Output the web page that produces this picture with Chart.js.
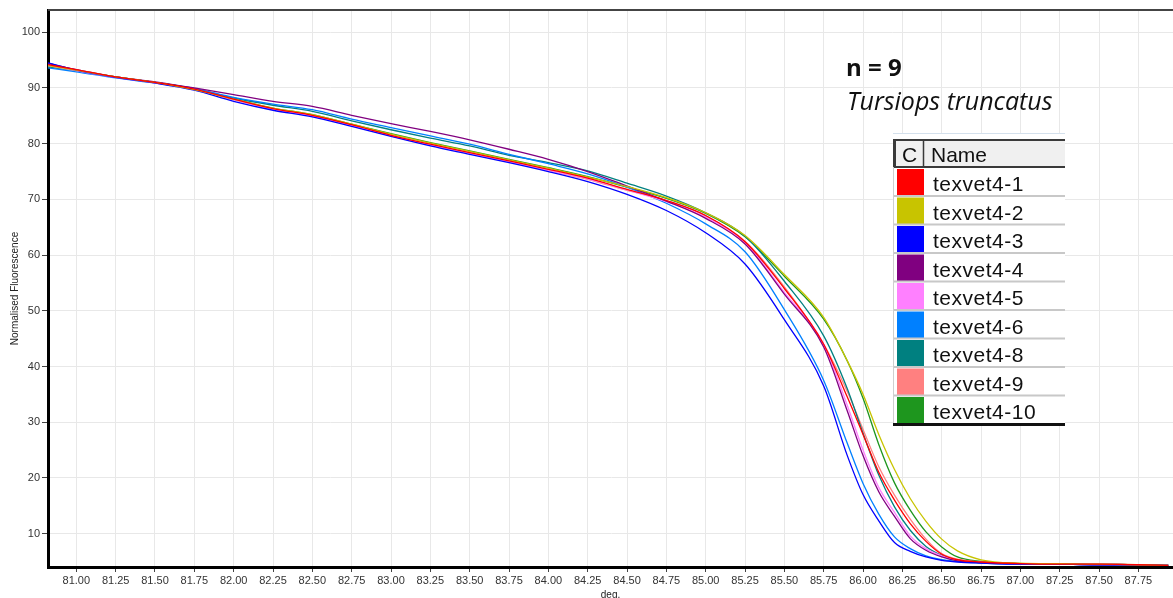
<!DOCTYPE html>
<html>
<head>
<meta charset="utf-8">
<script src="https://cdn.jsdelivr.net/npm/chart.js@4.4.1/dist/chart.umd.min.js"></script>
<style>
  html, body { margin: 0; padding: 0; background: #fff; }
  #wrap { width: 1173px; height: 598px; }
</style>
</head>
<body>
<div id="wrap"><canvas id="melt" width="1173" height="598"></canvas></div>
<script>
// temperature steps (deg.) shared by every melt curve
const temps = [80.82, 81.0, 81.25, 81.5, 81.75, 82.0, 82.25, 82.5, 82.75, 83.0,
  83.25, 83.5, 83.75, 84.0, 84.25, 84.5, 84.75, 85.0, 85.25, 85.5,
  85.75, 85.9, 86.0, 86.1, 86.2, 86.3, 86.4, 86.5, 86.6, 86.75,
  87.0, 87.25, 87.5, 87.75, 87.94];

const sampleNames = ['texvet4-1', 'texvet4-2', 'texvet4-3', 'texvet4-4', 'texvet4-5',
  'texvet4-6', 'texvet4-8', 'texvet4-9', 'texvet4-10'];
const sampleColors = ['#ff0000', '#c8c400', '#0000ff', '#800080', '#ff80ff',
  '#0080ff', '#008080', '#ff8080', '#1e961e'];

// normalised fluorescence per sample
const tv1 = [94.2, 93.3, 92.0, 91.0, 89.8, 88.0, 86.3, 85.1, 83.4, 81.5, 79.9, 78.4, 76.9, 75.4, 73.8, 71.8, 69.8, 67.1, 62.4, 54.0, 44.0, 34.5, 27.8, 21.0, 16.0, 11.8, 8.6, 6.3, 5.3, 4.9, 4.6, 4.5, 4.5, 4.4, 4.3];
const tv2 = [94.0, 93.2, 92.0, 91.0, 89.7, 88.0, 86.4, 85.2, 83.5, 81.7, 80.1, 78.6, 77.1, 75.6, 74.0, 72.3, 70.3, 67.6, 63.5, 56.5, 48.8, 41.0, 35.0, 27.8, 21.5, 16.3, 12.2, 9.0, 6.9, 5.3, 4.7, 4.6, 4.5, 4.4, 4.3];
const tv3 = [94.5, 93.2, 91.9, 90.9, 89.6, 87.6, 86.0, 84.8, 83.1, 81.3, 79.6, 78.1, 76.6, 75.0, 73.2, 70.9, 68.0, 64.0, 58.4, 48.4, 36.5, 24.0, 17.0, 12.3, 8.4, 6.8, 5.8, 5.2, 4.9, 4.7, 4.5, 4.5, 4.4, 4.4, 4.3];
const tv4 = [94.4, 93.3, 92.0, 91.1, 90.0, 88.8, 87.6, 86.7, 85.1, 83.6, 82.2, 80.7, 79.0, 77.2, 75.0, 72.4, 69.7, 66.6, 62.0, 53.0, 43.5, 32.0, 24.0, 17.5, 13.1, 9.1, 7.0, 5.8, 5.1, 4.8, 4.6, 4.5, 4.4, 4.4, 4.3];
const tv5 = [94.0, 93.1, 91.9, 90.9, 89.7, 87.9, 86.2, 85.0, 83.2, 81.5, 79.8, 78.3, 76.8, 75.2, 73.7, 71.7, 69.6, 66.8, 62.2, 53.3, 44.0, 33.0, 25.0, 18.3, 13.8, 9.6, 7.3, 6.0, 5.2, 4.8, 4.6, 4.5, 4.5, 4.4, 4.3];
const tv6 = [93.6, 92.9, 91.8, 90.9, 89.9, 88.3, 87.1, 86.1, 84.4, 82.9, 81.4, 79.9, 78.1, 76.4, 74.6, 72.2, 69.3, 65.6, 60.6, 50.2, 37.5, 26.2, 19.0, 13.5, 9.4, 7.3, 6.0, 5.3, 5.0, 4.7, 4.5, 4.5, 4.4, 4.4, 4.3];
const tv8 = [93.9, 93.1, 92.0, 91.0, 89.9, 88.2, 86.9, 85.8, 84.1, 82.5, 81.0, 79.6, 77.9, 76.6, 75.1, 72.9, 70.6, 67.6, 63.4, 55.3, 45.5, 36.0, 28.0, 20.5, 14.8, 10.6, 7.7, 6.1, 5.2, 4.8, 4.6, 4.5, 4.5, 4.4, 4.3];
const tv9 = [94.1, 93.2, 91.9, 90.9, 89.7, 87.9, 86.3, 85.0, 83.3, 81.4, 79.8, 78.3, 76.8, 75.2, 73.6, 71.6, 69.8, 67.0, 62.5, 54.3, 44.0, 35.5, 28.7, 22.0, 16.9, 12.6, 9.0, 6.4, 5.4, 4.9, 4.6, 4.6, 4.6, 4.4, 4.3];
const tv10 = [93.8, 93.1, 92.0, 91.0, 89.8, 88.0, 86.4, 85.2, 83.5, 81.8, 80.2, 78.7, 77.2, 75.7, 74.1, 72.2, 70.2, 67.5, 63.3, 56.2, 48.5, 41.0, 34.3, 26.0, 19.1, 14.2, 10.3, 7.6, 5.8, 5.0, 4.6, 4.5, 4.5, 4.4, 4.3];

const xTicks = [81.00, 81.25, 81.50, 81.75, 82.00, 82.25, 82.50, 82.75, 83.00, 83.25,
  83.50, 83.75, 84.00, 84.25, 84.50, 84.75, 85.00, 85.25, 85.50, 85.75,
  86.00, 86.25, 86.50, 86.75, 87.00, 87.25, 87.50, 87.75];
const yTicks = [10, 20, 30, 40, 50, 60, 70, 80, 90, 100];

const series = [tv1, tv2, tv3, tv4, tv5, tv6, tv8, tv9, tv10];

const tickFont = { family: 'Liberation Sans, Arial, sans-serif', size: 11 };

// top frame line, the sample count note and the C / Name table
const framePlugin = {
  id: 'frameAndKey',
  afterDraw(chart) {
    const ctx = chart.ctx;
    const area = chart.chartArea;
    ctx.save();
    ctx.strokeStyle = '#444';
    ctx.lineWidth = 2;
    ctx.beginPath();
    ctx.moveTo(area.left, area.top);
    ctx.lineTo(area.right, area.top);
    ctx.stroke();

    ctx.fillStyle = '#111';
    ctx.textBaseline = 'alphabetic';
    ctx.textAlign = 'left';
    ctx.font = 'bold 24px "Open Sans", sans-serif';
    ctx.fillText('n = 9', 846, 76);
    ctx.font = 'italic 25px "Open Sans", sans-serif';
    ctx.fillText('Tursiops truncatus', 847, 110);

    // table
    const left = 893, right = 1065, swR = 924;
    const headTop = 140, headBot = 167, rowH = 28.5;
    const rows = chart.data.datasets.length;
    const bottom = headBot + 1 + rows * rowH;
    ctx.fillStyle = '#fff';
    ctx.fillRect(left, 133, right - left, bottom - 133);
    ctx.strokeStyle = '#d4e0ec';
    ctx.lineWidth = 1;
    ctx.beginPath();
    ctx.moveTo(left, 133.5);
    ctx.lineTo(right, 133.5);
    ctx.stroke();

    ctx.fillStyle = '#f0f0f0';
    ctx.fillRect(left, headTop, right - left, headBot - headTop);
    ctx.strokeStyle = '#3a3a3a';
    ctx.lineWidth = 2;
    ctx.beginPath();
    ctx.moveTo(left, headTop); ctx.lineTo(right, headTop);
    ctx.moveTo(left, headBot); ctx.lineTo(right, headBot);
    ctx.stroke();
    ctx.lineWidth = 3;
    ctx.beginPath();
    ctx.moveTo(left + 1.5, headTop); ctx.lineTo(left + 1.5, headBot);
    ctx.stroke();
    ctx.lineWidth = 1.5;
    ctx.beginPath();
    ctx.moveTo(swR - 0.5, headTop); ctx.lineTo(swR - 0.5, headBot);
    ctx.stroke();

    ctx.fillStyle = '#111';
    ctx.font = '21px "Liberation Sans", Arial, sans-serif';
    ctx.fillText('C', 902, 162);
    ctx.fillText('Name', 931, 162);

    chart.data.datasets.forEach((ds, i) => {
      const top = headBot + 1 + i * rowH;
      ctx.fillStyle = ds.borderColor;
      ctx.fillRect(897, top + 1, swR - 897, rowH - 2);
      ctx.strokeStyle = '#c8c8c8';
      ctx.lineWidth = 2;
      ctx.beginPath();
      ctx.moveTo(left, top + rowH - 0.5);
      ctx.lineTo(right, top + rowH - 0.5);
      ctx.stroke();
      ctx.fillStyle = '#111';
      ctx.font = '21px "Liberation Sans", Arial, sans-serif';
      ctx.letterSpacing = '0.5px';
      ctx.fillText(ds.label, 933, top + 23);
      ctx.letterSpacing = '0px';
    });
    ctx.strokeStyle = '#cfcfcf';
    ctx.lineWidth = 1;
    ctx.beginPath();
    ctx.moveTo(left + 0.5, headBot); ctx.lineTo(left + 0.5, bottom);
    ctx.stroke();
    ctx.strokeStyle = '#111';
    ctx.lineWidth = 3;
    ctx.beginPath();
    ctx.moveTo(left, bottom); ctx.lineTo(right, bottom);
    ctx.stroke();
    ctx.restore();
  }
};

new Chart(document.getElementById('melt'), {
  type: 'line',
  data: {
    datasets: series.map((vals, i) => ({
      label: sampleNames[i],
      data: vals.map((v, j) => ({ x: temps[j], y: v })),
      borderColor: sampleColors[i],
      backgroundColor: sampleColors[i],
      borderWidth: 1.3,
      pointRadius: 0,
      cubicInterpolationMode: 'monotone',
      fill: false
    }))
  },
  options: {
    responsive: false,
    animation: false,
    layout: { padding: { top: 10, left: 0, right: 0, bottom: 0 } },
    plugins: { legend: { display: false }, tooltip: { enabled: false } },
    scales: {
      x: {
        type: 'linear',
        min: 80.82,
        max: 87.97,
        afterBuildTicks: s => { s.ticks = xTicks.map(v => ({ value: v })); },
        afterFit: s => { s.height = 31; },
        ticks: {
          autoSkip: false, maxRotation: 0, minRotation: 0,
          font: tickFont, color: '#333', padding: 2,
          callback: v => Number(v).toFixed(2)
        },
        grid: { color: '#e8e8e8', lineWidth: 1, tickColor: '#444', tickLength: 5 },
        border: { color: '#000', width: 3 },
        title: {
          display: true, text: 'deg.', color: '#222', padding: 0,
          font: { family: 'Liberation Sans, Arial, sans-serif', size: 10, lineHeight: 0.6 }
        }
      },
      y: {
        min: 4,
        max: 104,
        afterBuildTicks: s => { s.ticks = yTicks.map(v => ({ value: v })); },
        afterFit: s => { s.width = 48; },
        ticks: { font: tickFont, color: '#333', padding: 2 },
        grid: { color: '#e8e8e8', lineWidth: 1, tickColor: '#444', tickLength: 6 },
        border: { color: '#000', width: 3 },
        title: {
          display: true, text: 'Normalised Fluorescence', color: '#222',
          padding: { top: 9, bottom: 0 },
          font: { family: 'Liberation Sans, Arial, sans-serif', size: 10 }
        }
      }
    }
  },
  plugins: [framePlugin]
});
</script>
</body>
</html>
